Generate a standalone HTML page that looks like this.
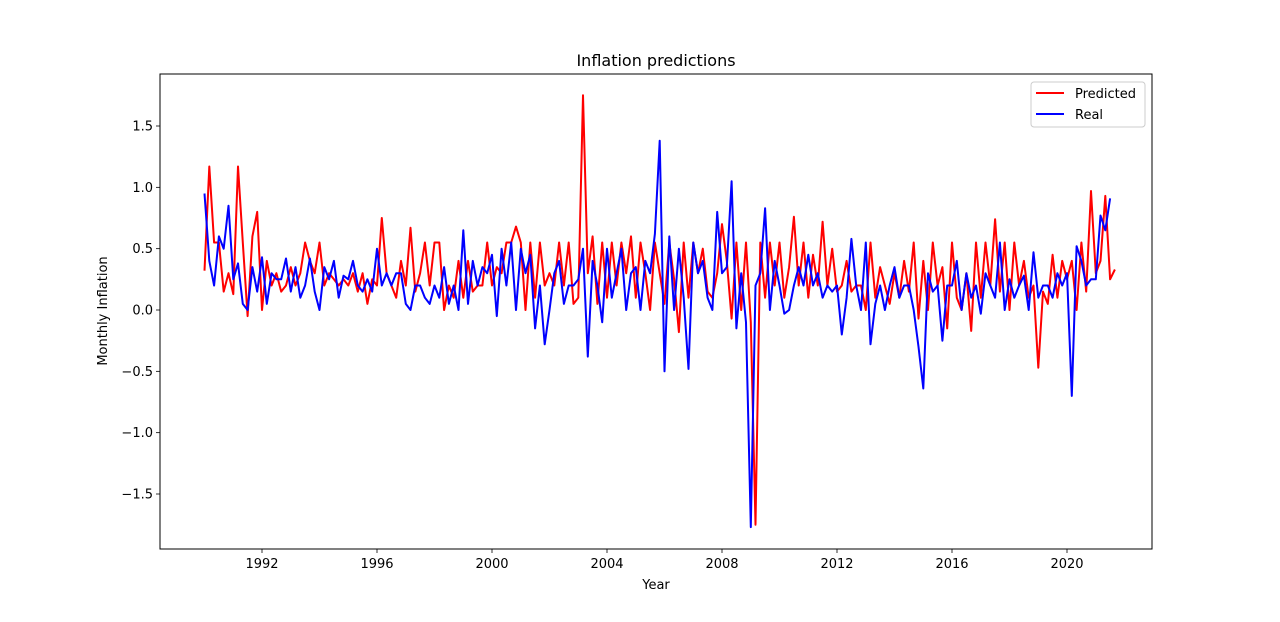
<!DOCTYPE html>
<html><head><meta charset="utf-8"><style>
body{margin:0;background:#fff;font-family:"Liberation Sans","DejaVu Sans",sans-serif;}
svg text{font-family:"DejaVu Sans","Liberation Sans",sans-serif;}
</style></head><body>
<svg id="chart" width="1280" height="617" xmlns="http://www.w3.org/2000/svg"></svg>
<script>
const startYear = 1990;
const stepsPerYear = 6;
const predicted = [
0.32,1.17,0.55,0.55,0.15,0.3,
0.13,1.17,0.55,-0.05,0.6,0.8,
0.0,0.4,0.2,0.3,0.15,0.2,
0.35,0.2,0.3,0.55,0.4,0.3,
0.55,0.2,0.3,0.25,0.2,0.25,
0.2,0.3,0.15,0.3,0.05,0.25,
0.2,0.75,0.3,0.2,0.1,0.4,
0.2,0.67,0.15,0.3,0.55,0.2,
0.55,0.55,0.0,0.2,0.1,0.4,
0.1,0.4,0.15,0.2,0.2,0.55,
0.2,0.35,0.3,0.55,0.55,0.68,
0.55,0.0,0.55,0.1,0.55,0.2,
0.3,0.2,0.55,0.2,0.55,0.05,
0.1,1.75,0.3,0.6,0.05,0.55,
0.1,0.55,0.2,0.55,0.3,0.6,
0.1,0.55,0.3,0.0,0.55,0.3,
0.05,0.55,0.25,-0.18,0.55,0.1,
0.55,0.3,0.5,0.15,0.1,0.3,
0.7,0.4,-0.07,0.55,0.0,0.55,
-0.1,-1.75,0.55,0.1,0.55,0.2,
0.55,0.1,0.35,0.76,0.2,0.55,
0.1,0.45,0.2,0.72,0.2,0.5,
0.15,0.2,0.4,0.15,0.2,0.2,
0.0,0.55,0.1,0.35,0.2,0.05,
0.3,0.1,0.4,0.15,0.55,-0.07,
0.4,0.0,0.55,0.2,0.35,-0.15,
0.55,0.1,0.0,0.3,-0.17,0.55,
0.1,0.55,0.2,0.74,0.15,0.55,
0.0,0.55,0.2,0.4,0.1,0.2,
-0.47,0.15,0.05,0.45,0.1,0.4,
0.25,0.4,0.0,0.55,0.15,0.97,
0.3,0.4,0.93,0.25,0.33];
const real = [
0.95,0.4,0.2,0.6,0.5,0.85,
0.25,0.38,0.05,0.0,0.35,0.15,
0.43,0.05,0.3,0.25,0.25,0.42,
0.15,0.35,0.1,0.2,0.42,0.15,
0.0,0.35,0.25,0.4,0.1,0.28,
0.25,0.4,0.2,0.15,0.25,0.15,
0.5,0.2,0.3,0.2,0.3,0.3,
0.05,0.0,0.2,0.2,0.1,0.05,
0.2,0.1,0.35,0.05,0.2,0.0,
0.65,0.05,0.4,0.2,0.35,0.3,
0.45,-0.05,0.5,0.2,0.55,0.0,
0.5,0.3,0.45,-0.15,0.2,-0.28,
0.0,0.3,0.4,0.05,0.2,0.2,
0.25,0.5,-0.38,0.4,0.2,-0.1,
0.5,0.1,0.3,0.5,0.0,0.3,
0.35,0.0,0.4,0.3,0.62,1.38,
-0.5,0.6,0.0,0.5,0.1,-0.48,
0.55,0.3,0.4,0.1,0.0,0.8,
0.3,0.35,1.05,-0.15,0.3,-0.1,
-1.77,0.2,0.3,0.83,0.0,0.4,
0.2,-0.03,0.0,0.2,0.35,0.2,
0.45,0.2,0.3,0.1,0.2,0.15,
0.2,-0.2,0.1,0.58,0.2,0.0,
0.55,-0.28,0.05,0.2,0.0,0.2,
0.35,0.1,0.2,0.2,0.0,-0.3,
-0.64,0.3,0.15,0.2,-0.25,0.2,
0.2,0.4,0.0,0.3,0.1,0.2,
-0.03,0.3,0.2,0.1,0.55,0.0,
0.25,0.1,0.2,0.28,0.0,0.47,
0.1,0.2,0.2,0.1,0.3,0.2,
0.3,-0.7,0.52,0.4,0.2,0.25,
0.25,0.77,0.65,0.91];
const xTicks = [1992,1996,2000,2004,2008,2012,2016,2020];
const yTicks = [-1.5,-1.0,-0.5,0.0,0.5,1.0,1.5];

const NS="http://www.w3.org/2000/svg";
const svg=document.getElementById('chart');
const L=160,R=1152,T=74,B=549;
const xs=y=>262+(y-1992)*(1067-262)/28;
const ys=v=>310-v*(310-126)/1.5;
function mk(tag,attrs,text){const e=document.createElementNS(NS,tag);for(const k in attrs)e.setAttribute(k,attrs[k]);if(text!==undefined)e.textContent=text;svg.appendChild(e);return e;}

for(const t of xTicks){
  const x=xs(t);
  const tk=mk('line',{x1:x,x2:x,y1:B,y2:B+4,stroke:'#000','stroke-width':0.8});
  
  
  const lb=mk('text',{x:x,y:B+19,'text-anchor':'middle','font-size':13},String(t));
  
  
}
for(const t of yTicks){
  const y=ys(t);
  const tk=mk('line',{x1:L-4,x2:L,y1:y,y2:y,stroke:'#000','stroke-width':0.8});
  
  
  const lb=mk('text',{x:L-7,y:y+4.5,'text-anchor':'end','font-size':13},(t<0?'\u2212':'')+Math.abs(t).toFixed(1));
  
  
}
function line(data,color,name){
  const pts=data.map((v,i)=>xs(startYear+i/stepsPerYear).toFixed(1)+','+ys(v).toFixed(1)).join(' ');
  const p=mk('polyline',{points:pts,fill:'none',stroke:color,'stroke-width':2,'stroke-linejoin':'round'});
  
  
}
line(predicted,'#ff0000','predicted-line');
line(real,'#0000ff','real-line');

const frame=mk('rect',{x:L,y:T,width:R-L,height:B-T,fill:'none',stroke:'#000','stroke-width':1});


const title=mk('text',{x:(L+R)/2,y:66,'text-anchor':'middle','font-size':16},'Inflation predictions');


const xt=mk('text',{x:(L+R)/2,y:589,'text-anchor':'middle','font-size':13},'Year');


const yt=mk('text',{x:107,y:311,'text-anchor':'middle','font-size':13,transform:'rotate(-90 107 311)'},'Monthly Inflation');



const lg=mk('rect',{x:1031,y:82,width:114,height:45,rx:3,fill:'#fff',stroke:'#ccc','stroke-width':1});


const entries=[['Predicted','#ff0000',93],['Real','#0000ff',114]];
for(const [n,c,y] of entries){
  const s=mk('line',{x1:1036,x2:1064,y1:y,y2:y,stroke:c,'stroke-width':2});
  
  
  const t=mk('text',{x:1075,y:y+5,'font-size':13},n);
  
  
}
</script>
</body></html>
